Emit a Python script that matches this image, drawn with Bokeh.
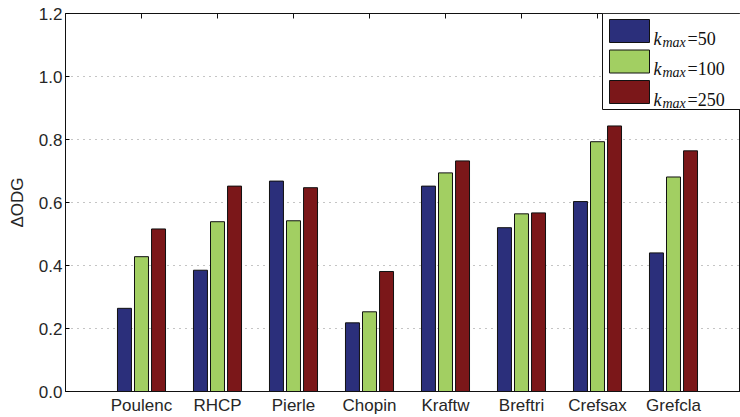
from bokeh.plotting import figure
from bokeh.models import Range1d, FixedTicker, ColumnDataSource
from bokeh.core.properties import value
from bokeh.embed import file_html
from bokeh.resources import INLINE

categories = ["Poulenc", "RHCP", "Pierle", "Chopin", "Kraftw", "Breftri", "Crefsax", "Grefcla"]
k50 = [0.264, 0.385, 0.668, 0.218, 0.652, 0.520, 0.603, 0.440]
k100 = [0.428, 0.539, 0.542, 0.253, 0.694, 0.564, 0.793, 0.681]
k250 = [0.516, 0.652, 0.647, 0.381, 0.732, 0.567, 0.843, 0.764]
series_names = ["50", "100", "250"]
colors = ["#2b2f7b", "#a2cf62", "#7b1719"]
y_ticks = [0.0, 0.2, 0.4, 0.6, 0.8, 1.0, 1.2]

# layout constants (pixels of the frame -> data units)
X_PX = 76.0      # pixels per category unit
Y_PX = 315.0     # pixels per 1.0 of y
FRAME_L, FRAME_T, FRAME_B = 65, 13, 391

def dx(px):
    return (px - FRAME_L) / X_PX

def dy(py):
    return (FRAME_B - py) / Y_PX

p = figure(width=740, height=417, output_backend="svg", toolbar_location=None,
           x_range=Range1d(0, (740 - FRAME_L) / X_PX), y_range=Range1d(0, 1.2),
           min_border_left=FRAME_L, min_border_right=0, min_border_top=FRAME_T,
           min_border_bottom=417 - FRAME_B)

xs = list(range(1, len(categories) + 1))
offsets = [-0.224, 0.0, 0.224]
for vals, off, col in zip([k50, k100, k250], offsets, colors):
    src = ColumnDataSource(dict(x=[x + off for x in xs], top=vals))
    p.vbar(x="x", top="top", width=0.184, source=src, fill_color=col,
           line_color="#111111", line_width=1)

# axes
p.outline_line_color = "#111111"
p.outline_line_width = 1
p.xgrid.visible = False
p.ygrid.grid_line_color = "#8a8a8a"
p.ygrid.grid_line_dash = "1 5"
p.ygrid.grid_line_width = 1
p.ygrid.ticker = FixedTicker(ticks=y_ticks)

xa = p.xaxis[0]
xa.ticker = FixedTicker(ticks=xs)
xa.major_label_overrides = {i: c for i, c in zip(xs, categories)}
xa.major_tick_in = 0
xa.major_tick_out = 0
xa.minor_tick_line_color = None
xa.major_label_standoff = 4
xa.major_label_text_font = "Liberation Sans"
xa.major_label_text_font_size = "17px"
xa.major_label_text_color = "#262626"
xa.axis_line_color = "#111111"

ya = p.yaxis[0]
ya.ticker = FixedTicker(ticks=y_ticks)
ya.major_label_overrides = {t: "%.1f" % t for t in y_ticks}
ya.major_tick_in = 4
ya.major_tick_out = 0
ya.minor_tick_line_color = None
ya.major_label_standoff = 3
ya.major_label_text_font = "Liberation Sans"
ya.major_label_text_font_size = "17px"
ya.major_label_text_color = "#262626"
ya.axis_label = "ΔODG"
ya.axis_label_text_font = "Liberation Sans"
ya.axis_label_text_font_size = "17px"
ya.axis_label_text_font_style = "normal"
ya.axis_label_text_color = "#262626"
ya.axis_label_standoff = 9
ya.axis_line_color = "#111111"

# inward ticks on the top edge of the box, at the category positions
p.segment(x0=xs, x1=xs, y0=[1.2] * len(xs), y1=[dy(FRAME_T + 5)] * len(xs),
          line_color="#111111", line_width=1)

# legend drawn manually (subscripted labels)
p.quad(left=[dx(602)], right=[dx(745)], top=[dy(13)], bottom=[dy(109)],
       fill_color="white", line_color="#111111", line_width=1)
row_tops = [19, 49.5, 80]
for i, (name, col) in enumerate(zip(series_names, colors)):
    t = row_tops[i]
    p.quad(left=[dx(609)], right=[dx(649)], top=[dy(t)], bottom=[dy(t + 23)],
           fill_color=col, line_color="#111111", line_width=1)
    base = t + 19
    p.text(x=[dx(653)], y=[dy(base)], text=["k"], text_font=value("Liberation Serif"),
           text_font_style="italic", text_font_size="18px", text_color="#111111",
           text_baseline="alphabetic", text_align="left")
    p.text(x=[dx(662)], y=[dy(base + 3.5)], text=["max"], text_font=value("Liberation Serif"),
           text_font_style="italic", text_font_size="14px", text_color="#111111",
           text_baseline="alphabetic", text_align="left")
    p.text(x=[dx(687)], y=[dy(base)], text=["=" + name], text_font=value("Liberation Serif"),
           text_font_size="18px", text_color="#111111",
           text_baseline="alphabetic", text_align="left")

open("out.html", "w").write(file_html(p, INLINE))
